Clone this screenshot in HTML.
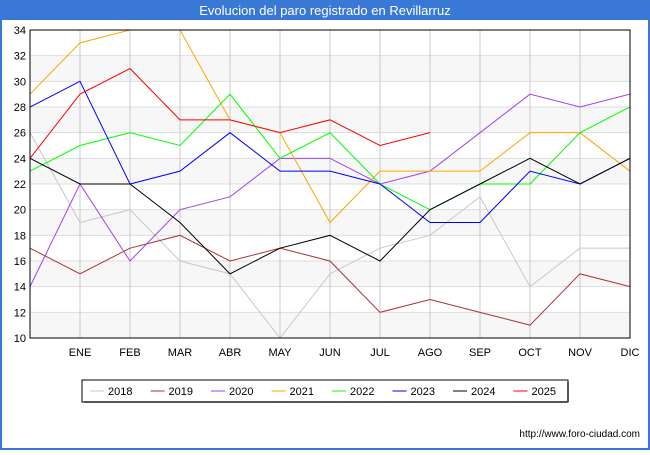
<!DOCTYPE html>
<html><head><meta charset="utf-8"><style>
body{margin:0;width:650px;height:450px;overflow:hidden;font-family:"Liberation Sans",sans-serif;background:#fff}
</style></head><body>
<svg width="650" height="450" xmlns="http://www.w3.org/2000/svg">
<rect x="0" y="0" width="650" height="450" fill="#3a78d6"/>
<rect x="2" y="20" width="646" height="428" fill="#fff"/>
<text x="325" y="15" fill="#fff" font-size="13" text-anchor="middle">Evolucion del paro registrado en Revillarruz</text>
<g id="grid"></g><g id="series"></g>
<rect x="30" y="30" width="600" height="308" fill="none" stroke="#000" stroke-width="1"/>
<g id="axes"></g>
<rect x="82" y="380" width="486" height="22" fill="#fff" stroke="#000"/>
<line x1="84" y1="402" x2="568" y2="402" stroke="#555" stroke-width="2"/>
<line x1="568" y1="382" x2="568" y2="402" stroke="#555" stroke-width="2"/>
<g id="legend"></g>
<text x="640" y="437" font-size="10" text-anchor="end" fill="#000">http://www.foro-ciudad.com</text>
</svg>
<script>
const months=["","ENE","FEB","MAR","ABR","MAY","JUN","JUL","AGO","SEP","OCT","NOV","DIC"];
const yTicks=[10,12,14,16,18,20,22,24,26,28,30,32,34];
const years=["2018","2019","2020","2021","2022","2023","2024","2025"];
const colors=["#c8c8c8","#b03030","#a040f0","#ffa500","#00ff00","#0000ff","#000000","#ff0000"];
const s2018=[26,19,20,16,15,10,15,17,18,21,14,17,17];
const s2019=[17,15,17,18,16,17,16,12,13,12,11,15,14];
const s2020=[14,22,16,20,21,24,24,22,23,26,29,28,29];
const s2021=[29,33,34,34,27,26,19,23,23,23,26,26,23];
const s2022=[23,25,26,25,29,24,26,22,20,22,22,26,28];
const s2023=[28,30,22,23,26,23,23,22,19,19,23,22,24];
const s2024=[24,22,22,19,15,17,18,16,20,22,24,22,24];
const s2025=[24,29,31,27,27,26,27,25,26];
const allSeries=[s2018,s2019,s2020,s2021,s2022,s2023,s2024,s2025];
const NS="http://www.w3.org/2000/svg";
const X=i=>30+i*50, Y=v=>338-(v-10)*308/24;
function mk(t,a,p){const e=document.createElementNS(NS,t);for(const k in a)e.setAttribute(k,a[k]);p.appendChild(e);return e;}
const g=document.getElementById('grid'),ax=document.getElementById('axes'),sg=document.getElementById('series'),lg=document.getElementById('legend');
for(let i=0;i<yTicks.length-1;i++){if(i%2==0){const r=mk('rect',{x:30,y:Y(yTicks[i+1]),width:600,height:Y(yTicks[i])-Y(yTicks[i+1]),fill:'#f7f7f7'},g);

}}
yTicks.forEach(v=>{const l=mk('line',{x1:30,x2:630,y1:Y(v),y2:Y(v),stroke:'#ddd'},g);


const t=mk('text',{x:26,y:Y(v)+4,'font-size':11,'text-anchor':'end'},ax);t.textContent=v;

});
months.forEach((m,i)=>{if(i>0){const l=mk('line',{x1:X(i),x2:X(i),y1:30,y2:338,stroke:'#c8c8c8'},g);

}
const t=mk('text',{x:X(i),y:356,'font-size':11,'text-anchor':'middle'},ax);t.textContent=m;

});
mk('clipPath',{id:'cp'},sg).appendChild(document.createElementNS(NS,'rect'));
const cr=sg.querySelector('#cp rect');cr.setAttribute('x',30);cr.setAttribute('y',30);cr.setAttribute('width',600);cr.setAttribute('height',308);
allSeries.forEach((s,k)=>{const p=mk('polyline',{points:s.map((v,i)=>X(i)+','+Y(v)).join(' '),fill:'none',stroke:colors[k],'stroke-width':1,'clip-path':'url(#cp)'},sg);


const lx=90+k*60.5;
const ll=mk('line',{x1:lx,x2:lx+14,y1:391,y2:391,stroke:colors[k]},lg);


const lt=mk('text',{x:lx+18,y:395,'font-size':11},lg);lt.textContent=years[k];

});
</script>
</body></html>
